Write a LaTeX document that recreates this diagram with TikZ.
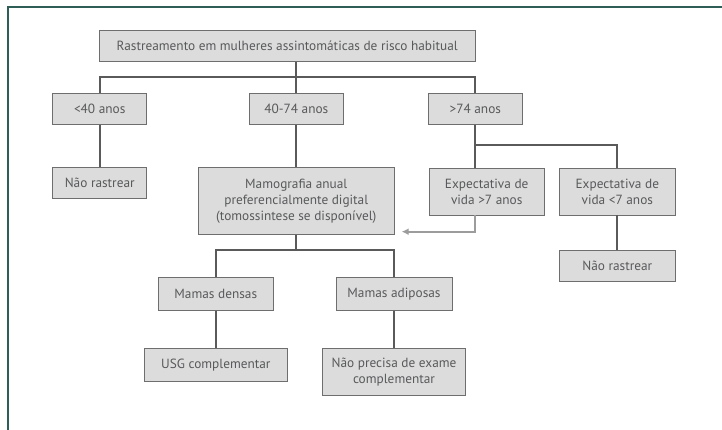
\documentclass[tikz,border=0pt]{standalone}
\usepackage{fontspec}
\setmainfont{PT Sans}
\definecolor{framegreen}{HTML}{2F5E57}
\definecolor{boxfill}{HTML}{DCDCDC}
\definecolor{boxline}{HTML}{6E6E6E}
\definecolor{linkgray}{HTML}{5A5A5A}
\definecolor{textgray}{HTML}{58595B}
\definecolor{backgray}{HTML}{9C9C9C}
\tikzset{
  flowbox/.style={draw=boxline, fill=boxfill, line width=0.9pt, inner sep=0pt,
    align=center, text=textgray, font=\fontsize{13.3}{16.2}\selectfont},
  link/.style={draw=linkgray, line width=2.2pt},
  backlink/.style={draw=backgray, line width=1.8pt, -{Latex[length=7pt,width=7pt]}}
}
\usetikzlibrary{arrows.meta}
\begin{document}
\begin{tikzpicture}[x=1pt, y=-1pt]
\useasboundingbox (0,0) rectangle (722,430);
% frame
\draw [framegreen, line width=1.8pt] (8,430) -- (8,7) -- (722,7);
% boxes
\node (top) at (287.2,46.2) [flowbox, minimum width=376pt, minimum height=31pt] {Rastreamento em mulheres assintomáticas de risco habitual};
\node (young) at (99.7,109.2) [flowbox, minimum width=94pt, minimum height=30.5pt] {<40 anos};
\node (mid) at (296.3,109.2) [flowbox, minimum width=94pt, minimum height=30.5pt] {40-74 anos};
\node (old) at (475.3,109.2) [flowbox, minimum width=94pt, minimum height=30.5pt] {>74 anos};
\node (noscreenL) at (99.7,183.2) [flowbox, minimum width=94pt, minimum height=31pt] {Não rastrear};
\node (mammo) at (296.3,201.2) [flowbox, minimum width=196pt, minimum height=66.5pt] {Mamografia anual\\preferencialmente digital\\(tomossintese se disponível)};
\node (lifemore) at (486.7,191.5) [flowbox, minimum width=115.3pt, minimum height=47pt] {Expectativa de\\vida >7 anos};
\node (lifeless) at (617.3,191.5) [flowbox, minimum width=116pt, minimum height=47pt] {Expectativa de\\vida <7 anos};
\node (noscreenR) at (617.3,265.5) [flowbox, minimum width=116pt, minimum height=31pt] {Não rastrear};
\node (dense) at (215.8,293.8) [flowbox, minimum width=115.7pt, minimum height=33pt] {Mamas densas};
\node (fatty) at (394,293.8) [flowbox, minimum width=116pt, minimum height=33pt] {Mamas adiposas};
\node (usg) at (215.8,364.7) [flowbox, minimum width=143pt, minimum height=32.7pt] {USG complementar};
\node (noexam) at (394,371.8) [flowbox, minimum width=143.4pt, minimum height=47pt] {Não precisa de exame\\complementar};
% branch points
\coordinate (agebus) at (296.3,77.3);
\coordinate (lifebus) at (475.3,145);
\coordinate (breastbus) at (296.3,250);
\coordinate (backturn) at (475.3,231.7);
\coordinate (backend) at (401.7,231.7);
% connectors
\draw [link] (top.south -| mid.north) -- (mid.north);
\draw [link] (young.north) |- (agebus) -| (old.north);
\draw [link] (young.south) -- (noscreenL.north);
\draw [link] (mid.south) -- (mammo.north);
\draw [link] (old.south) -- (old.south |- lifemore.north);
\draw [link] (lifebus) -| (lifeless.north);
\draw [link] (lifeless.south) -- (noscreenR.north);
\draw [link] (mammo.south) -- (breastbus);
\draw [link] (dense.north) |- (breastbus) -| (fatty.north);
\draw [link] (dense.south) -- (usg.north);
\draw [link] (fatty.south) -- (noexam.north);
\draw [backlink] (lifemore.south -| backturn) -- (backturn) -- (backend);
\end{tikzpicture}
\end{document}
